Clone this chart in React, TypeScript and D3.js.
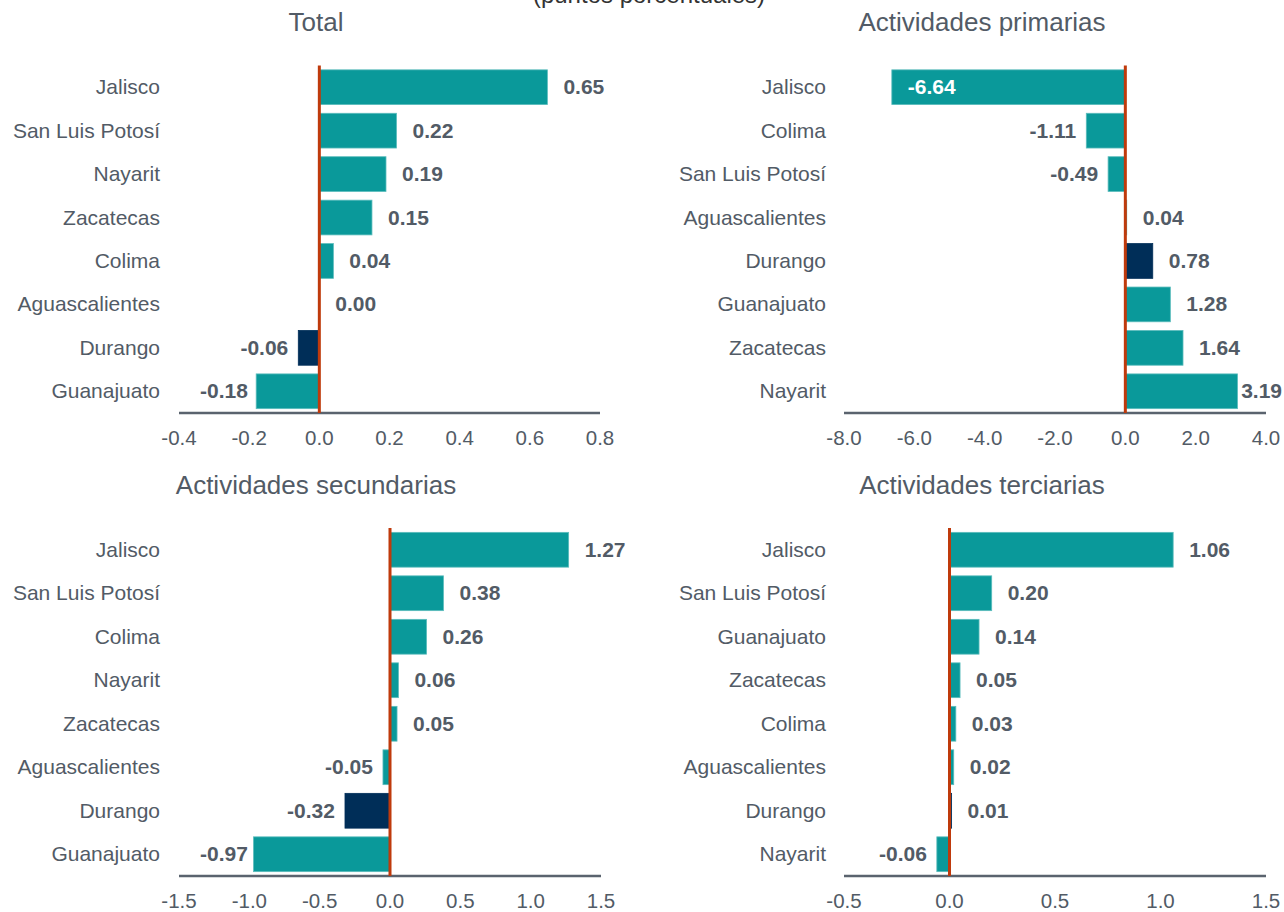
import React from 'react';
import * as d3 from 'd3';

// datos de cada panel (puntos porcentuales)
const totalCats = ['Jalisco', 'San Luis Potosí', 'Nayarit', 'Zacatecas', 'Colima', 'Aguascalientes', 'Durango', 'Guanajuato'];
const totalVals = [0.65, 0.22, 0.19, 0.15, 0.04, 0.0, -0.06, -0.18];

const primCats = ['Jalisco', 'Colima', 'San Luis Potosí', 'Aguascalientes', 'Durango', 'Guanajuato', 'Zacatecas', 'Nayarit'];
const primVals = [-6.64, -1.11, -0.49, 0.04, 0.78, 1.28, 1.64, 3.19];

const secCats = ['Jalisco', 'San Luis Potosí', 'Colima', 'Nayarit', 'Zacatecas', 'Aguascalientes', 'Durango', 'Guanajuato'];
const secVals = [1.27, 0.38, 0.26, 0.06, 0.05, -0.05, -0.32, -0.97];

const terCats = ['Jalisco', 'San Luis Potosí', 'Guanajuato', 'Zacatecas', 'Colima', 'Aguascalientes', 'Durango', 'Nayarit'];
const terVals = [1.06, 0.2, 0.14, 0.05, 0.03, 0.02, 0.01, -0.06];

const totalTicks = [-0.4, -0.2, 0.0, 0.2, 0.4, 0.6, 0.8];
const primTicks = [-8, -6, -4, -2, 0, 2, 4];
const secTicks = [-1.5, -1.0, -0.5, 0.0, 0.5, 1.0, 1.5];
const terTicks = [-0.5, 0.0, 0.5, 1.0, 1.5];

const highlight = 'Durango';
const width = 1284;
const height = 912;
const font = "Arial, 'Liberation Sans', sans-serif";
const textColor = '#525b66';
const teal = '#0a999a';
const navy = '#002e58';

// ancho aproximado de una etiqueta numerica en negrita
const textW = (s, size) => {
  let w = 0;
  for (const c of s) w += c === '.' ? 0.278 : c === '-' ? 0.333 : 0.556;
  return w * size;
};

const fmt1 = t => (Math.abs(t) < 1e-9 ? 0 : t).toFixed(1);

const Panel = ({ title, cats, vals, ticks, x0, x1, y0, y1, labelX, titleX, titleY }) => {
  const x = d3.scaleLinear().domain([ticks[0], ticks[ticks.length - 1]]).range([x0, x1]);
  const y = d3.scaleBand().domain(cats).range([y0, y1]).paddingInner(0.2).paddingOuter(0.1);
  const zero = x(0);
  const fs = 21;

  return (
    <g>
      <text x={titleX} y={titleY} textAnchor="middle" fontSize={26} fill={textColor} fontFamily={font}>{title}</text>
      {cats.map((c, i) => {
        const v = vals[i];
        const yy = y(c);
        return (
          <g key={c}>
            <text x={labelX} y={yy + y.bandwidth() / 2 + 7} textAnchor="end" fontSize={21}
              fill={textColor} fontFamily={font}>{c}</text>
            <rect x={Math.min(x(v), zero)} y={yy} width={Math.abs(x(v) - zero)} height={y.bandwidth()}
              fill={c === highlight ? navy : teal} stroke={c === highlight ? navy : '#5bbcbc'} strokeWidth={0.8} />
          </g>
        );
      })}
      {cats.map((c, i) => {
        const v = vals[i];
        const s = v.toFixed(2);
        const w = textW(s, fs);
        const cy = y(c) + y.bandwidth() / 2 + 7;
        let lx, anchor = 'start', fill = textColor;
        if (v >= 0) {
          lx = x(v) + 16;
          if (lx + w > width - 2) { lx = width - 2; anchor = 'end'; }
        } else {
          lx = x(v) - 10;
          anchor = 'end';
          if (lx - w < x0 - 5) { lx = x(v) + 16; anchor = 'start'; fill = '#ffffff'; }
          else if (lx - w < x0 + 21) { lx = x0 + 21 + w; }
        }
        return (
          <text key={'v' + c} x={lx} y={cy} textAnchor={anchor} fontSize={fs} fontWeight="bold"
            fill={fill} fontFamily={font}>{s}</text>
        );
      })}
      <line x1={x0} x2={x1} y1={y1} y2={y1} stroke="#5a636e" strokeWidth={2.5} />
      <line x1={zero} x2={zero} y1={y0} y2={y1} stroke="#bf3a0c" strokeWidth={3} />
      {ticks.map(t => (
        <text key={'t' + t} x={x(t)} y={y1 + 32} textAnchor="middle" fontSize={20.5}
          fill={textColor} fontFamily={font}>{fmt1(t)}</text>
      ))}
    </g>
  );
};

const App = () => (
  <svg width={width} height={height} style={{ position: 'absolute', left: 0, top: 0, background: '#fff' }}>
    <text x={649} y={3} textAnchor="middle" fontSize={24} fill="#333" fontFamily={font}>(puntos porcentuales)</text>
    <Panel title="Total" cats={totalCats} vals={totalVals} ticks={totalTicks}
      x0={179} x1={600} y0={65.5} y1={413} labelX={160} titleX={316} titleY={31} />
    <Panel title="Actividades primarias" cats={primCats} vals={primVals} ticks={primTicks}
      x0={844} x1={1266} y0={65.5} y1={413} labelX={826} titleX={982} titleY={31} />
    <Panel title="Actividades secundarias" cats={secCats} vals={secVals} ticks={secTicks}
      x0={179} x1={601} y0={528} y1={876} labelX={160} titleX={316} titleY={494} />
    <Panel title="Actividades terciarias" cats={terCats} vals={terVals} ticks={terTicks}
      x0={844} x1={1266} y0={528} y1={876} labelX={826} titleX={982} titleY={494} />
  </svg>
);

export default App;
